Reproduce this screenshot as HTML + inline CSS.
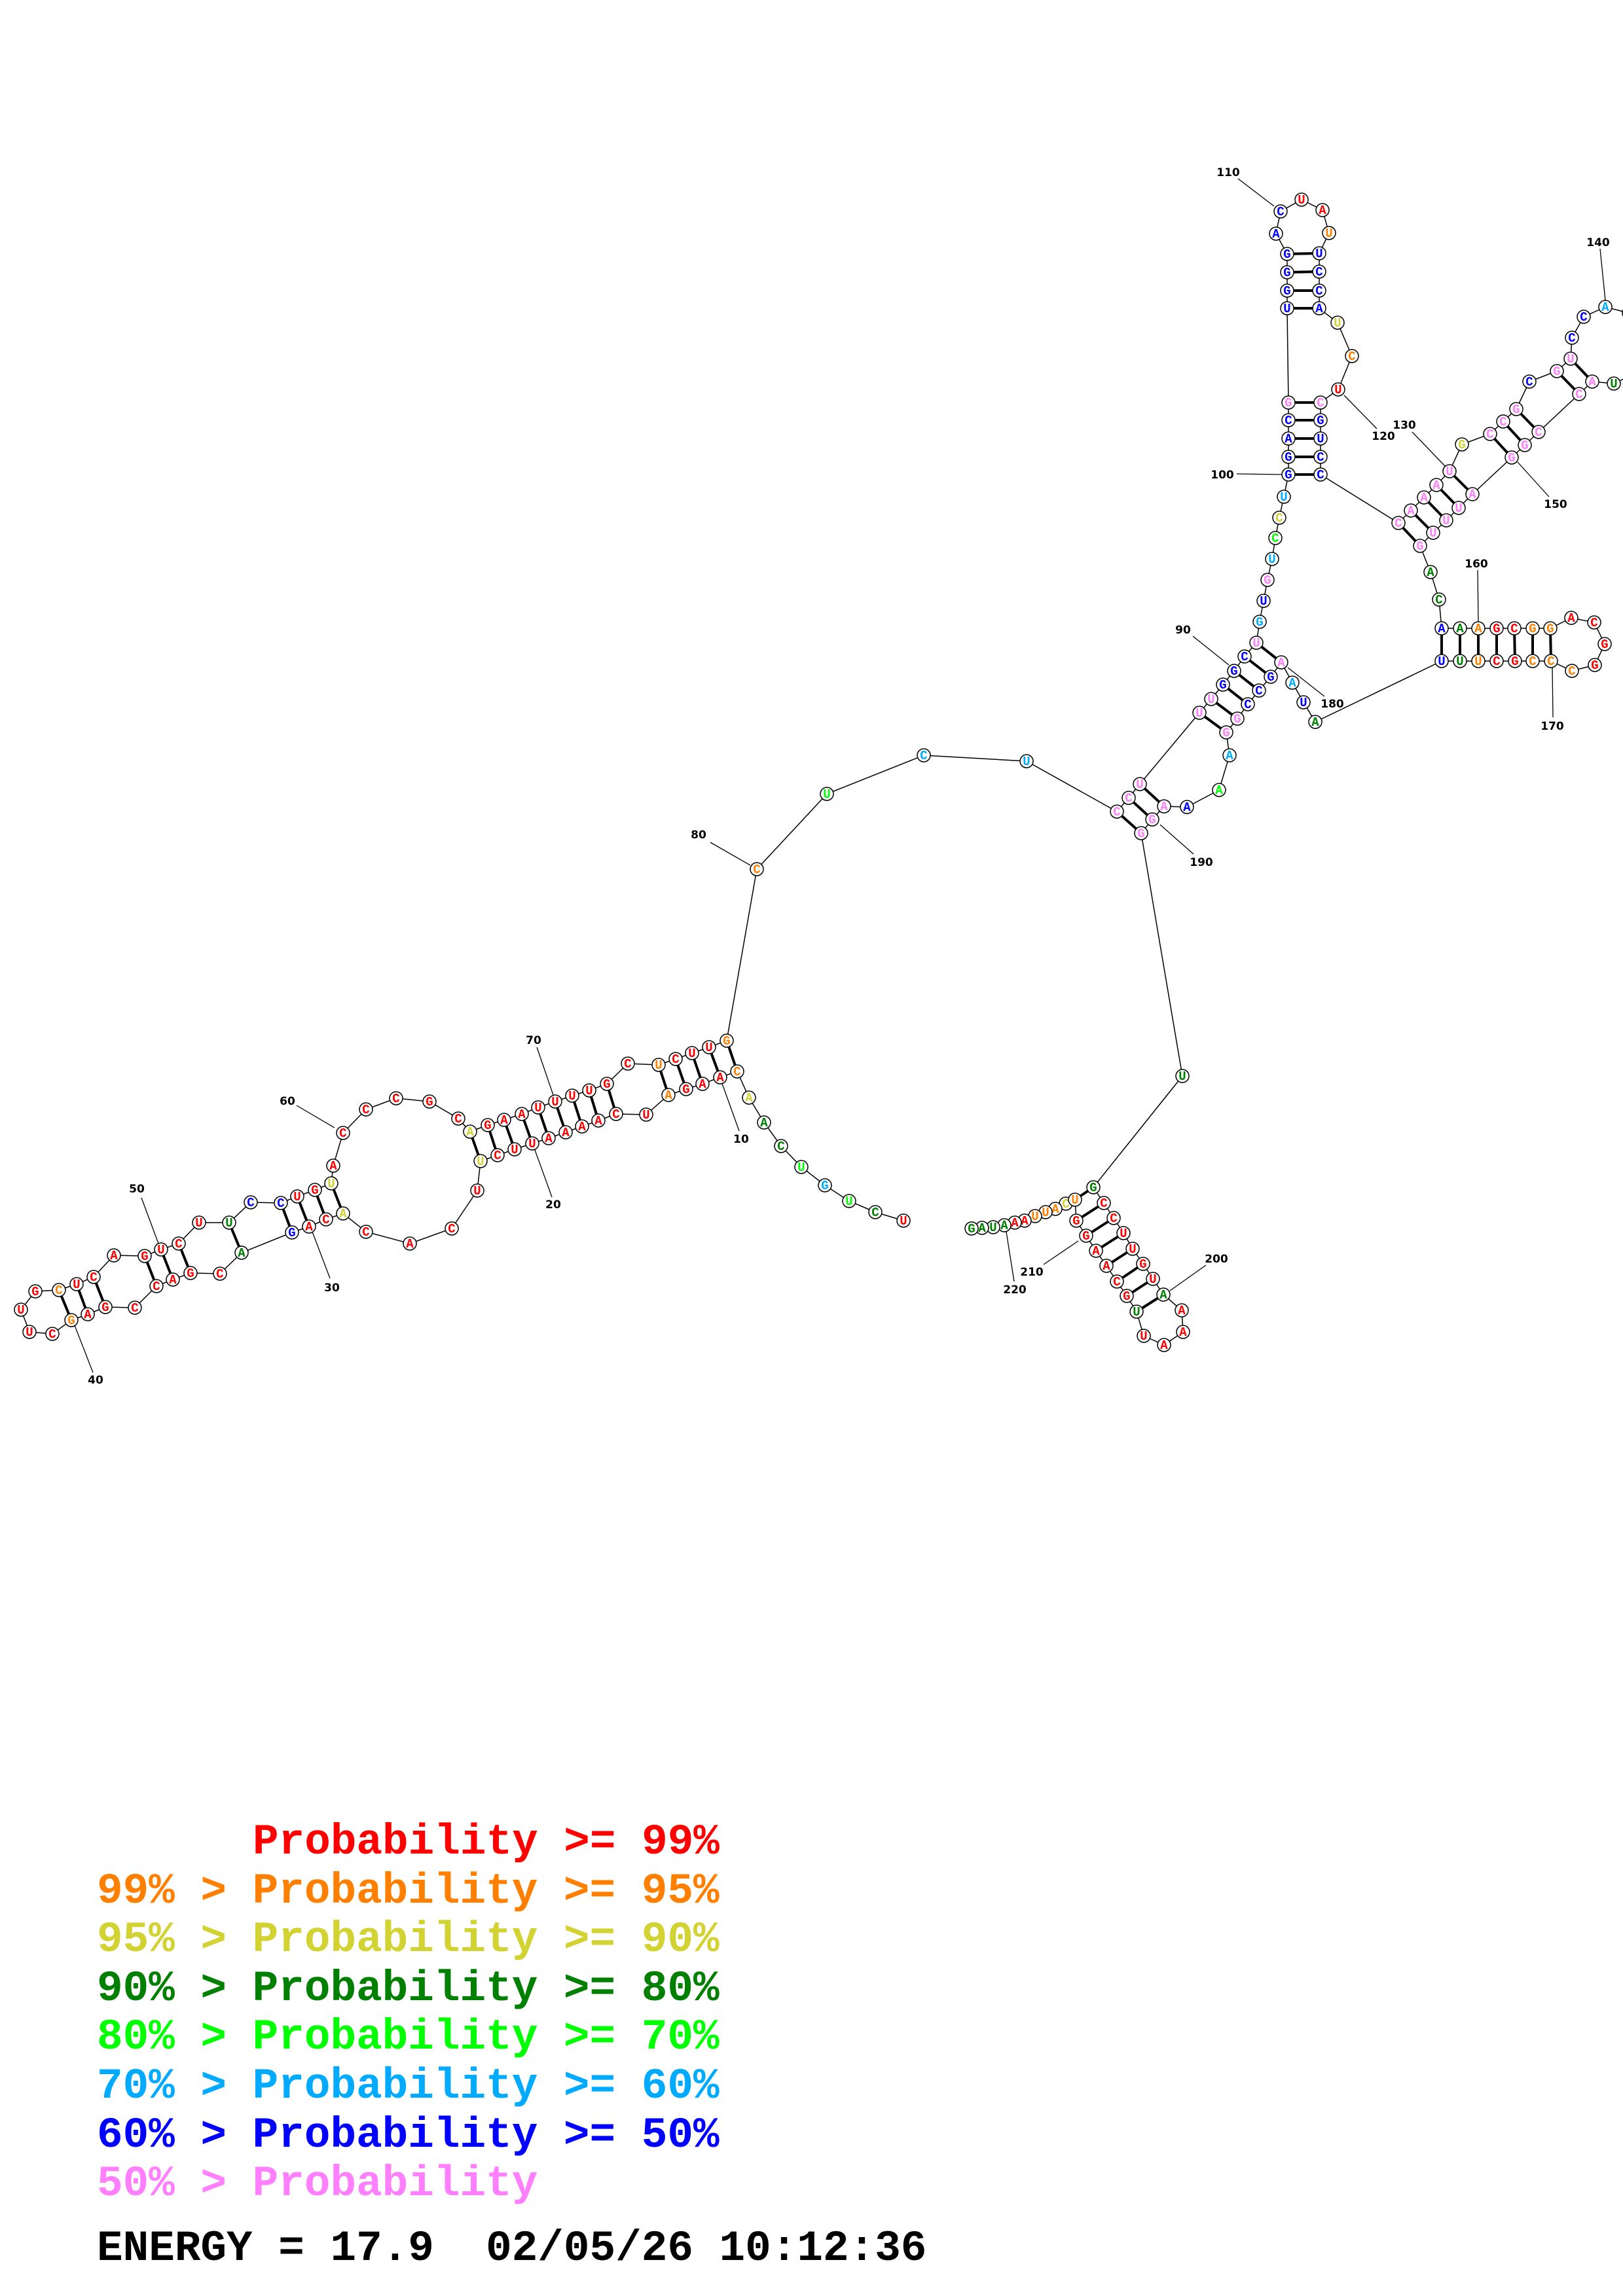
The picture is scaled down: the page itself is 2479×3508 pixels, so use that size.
<!DOCTYPE html>
<html><head><meta charset="utf-8"><title>RNA structure</title>
<style>
html,body{margin:0;padding:0;background:#fff;}
svg{display:block;}
.bb{fill:none;stroke:#000;stroke-width:1.5;}
.pr line{stroke:#000;stroke-width:4;}
.nt circle{fill:#fff;stroke:#000;stroke-width:1.5;}
.nt text{font-family:"Liberation Mono","DejaVu Sans Mono",monospace;font-weight:bold;font-size:19px;text-anchor:middle;}
.lb line{stroke:#000;stroke-width:1.3;}
.lb text{font-family:"DejaVu Sans","Liberation Sans",sans-serif;font-weight:bold;font-size:17px;text-anchor:middle;fill:#000;}
.lg text{font-family:"Liberation Mono","DejaVu Sans Mono",monospace;font-weight:bold;font-size:66px;white-space:pre;}
.r{fill:#ff0000}.o{fill:#ff8000}.y{fill:#d2d232}.d{fill:#008000}.g{fill:#00ff00}.l{fill:#00aaff}.b{fill:#0000ff}.p{fill:#ff80ff}.k{fill:#000}
</style></head>
<body>
<svg xmlns="http://www.w3.org/2000/svg" width="2479" height="3508" viewBox="0 0 2479 3508">
<rect width="2479" height="3508" fill="#fff"/>
<polyline class="bb" points="1380,1865 1337,1852 1297,1835 1260,1811 1224,1783 1193,1751 1167,1715 1144,1677 1126,1637 1100,1646 1073,1656 1048,1664 1021,1673 987,1703 941,1702 914,1712 889,1721 864,1730 838,1739 813,1747 786,1756 760,1765 734,1774 729,1819 690,1877 626,1900 559,1882 524,1854 498,1863 472,1874 446,1883 369,1914 336,1946 291,1945 264,1955 239,1965 206,1998 161,1997 134,2008 109,2017 80,2038 45,2035 32,2001 54,1973 90,1971 117,1962 143,1951 174,1918 221,1919 246,1909 273,1900 304,1868 350,1868 383,1837 429,1838 454,1828 481,1818 506,1808 509,1781 524,1731 559,1695 605,1678 656,1683 700,1709 718,1729 745,1719 770,1711 797,1702 822,1692 848,1683 874,1674 900,1666 927,1656 959,1625 1006,1627 1032,1618 1057,1609 1083,1600 1110,1590 1156,1328 1263,1213 1411,1154 1568,1163 1706,1240 1724,1219 1741,1198 1832,1089 1850,1068 1868,1046 1885,1025 1901,1003 1919,982 1924,950 1930,918 1936,886 1943,854 1948,822 1954,791 1961,759 1968,725 1968,698 1968,670 1968,642 1968,615 1966,471 1966,444 1966,416 1966,388 1949,357 1956,323 1988,305 2020,321 2030,356 2015,387 2015,415 2015,444 2015,471 2043,493 2065,544 2044,595 2017,615 2017,642 2017,670 2017,698 2017,725 2136,799 2155,780 2175,760 2194,741 2214,720 2233,679 2276,663 2296,644 2316,625 2336,583 2378,567 2399,548 2401,516 2419,484 2452,469 2487,478 2511,505 2515,540 2497,571 2465,586 2432,583 2412,602 2350,660 2329,680 2309,699 2249,755 2228,776 2209,795 2189,814 2169,834 2185,874 2198,916 2202,960 2230,960 2258,960 2286,960 2313,960 2341,960 2368,960 2400,944 2435,951 2451,984 2436,1016 2401,1025 2369,1010 2341,1010 2314,1010 2286,1010 2258,1010 2230,1010 2202,1010 2009,1103 1991,1073 1974,1043 1957,1012 1941,1034 1923,1055 1906,1076 1890,1098 1873,1119 1878,1154 1862,1207 1813,1233 1778,1232 1760,1252 1743,1273 1806,1644 1670,1814 1686,1838 1701,1861 1716,1884 1730,1908 1746,1931 1761,1954 1777,1978 1805,2002 1807,2035 1778,2055 1747,2041 1736,2004 1721,1980 1706,1958 1690,1934 1674,1911 1659,1888 1644,1865 1642,1833 1628,1839 1612,1847 1597,1852 1581,1858 1565,1865 1550,1868 1534,1872 1517,1875 1500,1876 1484,1877"/>
<g class="pr">
<line x1="1126" y1="1637" x2="1110" y2="1590"/>
<line x1="1100" y1="1646" x2="1083" y2="1600"/>
<line x1="1073" y1="1656" x2="1057" y2="1609"/>
<line x1="1048" y1="1664" x2="1032" y2="1618"/>
<line x1="1021" y1="1673" x2="1006" y2="1627"/>
<line x1="941" y1="1702" x2="927" y2="1656"/>
<line x1="914" y1="1712" x2="900" y2="1666"/>
<line x1="889" y1="1721" x2="874" y2="1674"/>
<line x1="864" y1="1730" x2="848" y2="1683"/>
<line x1="838" y1="1739" x2="822" y2="1692"/>
<line x1="813" y1="1747" x2="797" y2="1702"/>
<line x1="786" y1="1756" x2="770" y2="1711"/>
<line x1="760" y1="1765" x2="745" y2="1719"/>
<line x1="734" y1="1774" x2="718" y2="1729"/>
<line x1="524" y1="1854" x2="506" y2="1808"/>
<line x1="498" y1="1863" x2="481" y2="1818"/>
<line x1="472" y1="1874" x2="454" y2="1828"/>
<line x1="446" y1="1883" x2="429" y2="1838"/>
<line x1="369" y1="1914" x2="350" y2="1868"/>
<line x1="291" y1="1945" x2="273" y2="1900"/>
<line x1="264" y1="1955" x2="246" y2="1909"/>
<line x1="239" y1="1965" x2="221" y2="1919"/>
<line x1="161" y1="1997" x2="143" y2="1951"/>
<line x1="134" y1="2008" x2="117" y2="1962"/>
<line x1="109" y1="2017" x2="90" y2="1971"/>
<line x1="1706" y1="1240" x2="1743" y2="1273"/>
<line x1="1724" y1="1219" x2="1760" y2="1252"/>
<line x1="1741" y1="1198" x2="1778" y2="1232"/>
<line x1="1832" y1="1089" x2="1873" y2="1119"/>
<line x1="1850" y1="1068" x2="1890" y2="1098"/>
<line x1="1868" y1="1046" x2="1906" y2="1076"/>
<line x1="1885" y1="1025" x2="1923" y2="1055"/>
<line x1="1901" y1="1003" x2="1941" y2="1034"/>
<line x1="1919" y1="982" x2="1957" y2="1012"/>
<line x1="1968" y1="725" x2="2017" y2="725"/>
<line x1="1968" y1="698" x2="2017" y2="698"/>
<line x1="1968" y1="670" x2="2017" y2="670"/>
<line x1="1968" y1="642" x2="2017" y2="642"/>
<line x1="1968" y1="615" x2="2017" y2="615"/>
<line x1="1966" y1="471" x2="2015" y2="471"/>
<line x1="1966" y1="444" x2="2015" y2="444"/>
<line x1="1966" y1="416" x2="2015" y2="415"/>
<line x1="1966" y1="388" x2="2015" y2="387"/>
<line x1="2136" y1="799" x2="2169" y2="834"/>
<line x1="2155" y1="780" x2="2189" y2="814"/>
<line x1="2175" y1="760" x2="2209" y2="795"/>
<line x1="2194" y1="741" x2="2228" y2="776"/>
<line x1="2214" y1="720" x2="2249" y2="755"/>
<line x1="2276" y1="663" x2="2309" y2="699"/>
<line x1="2296" y1="644" x2="2329" y2="680"/>
<line x1="2316" y1="625" x2="2350" y2="660"/>
<line x1="2378" y1="567" x2="2412" y2="602"/>
<line x1="2399" y1="548" x2="2432" y2="583"/>
<line x1="2202" y1="960" x2="2202" y2="1010"/>
<line x1="2230" y1="960" x2="2230" y2="1010"/>
<line x1="2258" y1="960" x2="2258" y2="1010"/>
<line x1="2286" y1="960" x2="2286" y2="1010"/>
<line x1="2313" y1="960" x2="2314" y2="1010"/>
<line x1="2341" y1="960" x2="2341" y2="1010"/>
<line x1="2368" y1="960" x2="2369" y2="1010"/>
<line x1="1670" y1="1814" x2="1642" y2="1833"/>
<line x1="1686" y1="1838" x2="1644" y2="1865"/>
<line x1="1701" y1="1861" x2="1659" y2="1888"/>
<line x1="1716" y1="1884" x2="1674" y2="1911"/>
<line x1="1730" y1="1908" x2="1690" y2="1934"/>
<line x1="1746" y1="1931" x2="1706" y2="1958"/>
<line x1="1761" y1="1954" x2="1721" y2="1980"/>
<line x1="1777" y1="1978" x2="1736" y2="2004"/>
</g>
<g class="lb">
<line x1="1101" y1="1650" x2="1129" y2="1728"/><text x="1132" y="1746">10</text>
<line x1="817" y1="1757" x2="843" y2="1829"/><text x="845" y="1846">20</text>
<line x1="477" y1="1882" x2="504" y2="1953"/><text x="507" y="1973">30</text>
<line x1="114" y1="2025" x2="142" y2="2097"/><text x="146" y="2114">40</text>
<line x1="216" y1="1830" x2="242" y2="1900"/><text x="209" y="1822">50</text>
<line x1="453" y1="1689" x2="511" y2="1723"/><text x="439" y="1688">60</text>
<line x1="820" y1="1600" x2="845" y2="1673"/><text x="815" y="1595">70</text>
<line x1="1085" y1="1287" x2="1146" y2="1322"/><text x="1067" y="1281">80</text>
<line x1="1822" y1="972" x2="1877" y2="1016"/><text x="1807" y="968">90</text>
<line x1="1889" y1="724" x2="1958" y2="725"/><text x="1867" y="731">100</text>
<line x1="1891" y1="273" x2="1946" y2="315"/><text x="1876" y="269">110</text>
<line x1="2053" y1="604" x2="2103" y2="655"/><text x="2113" y="672">120</text>
<line x1="2157" y1="660" x2="2207" y2="712"/><text x="2145" y="655">130</text>
<line x1="2444" y1="380" x2="2452" y2="459"/><text x="2441" y="376">140</text>
<line x1="2318" y1="706" x2="2366" y2="759"/><text x="2376" y="776">150</text>
<line x1="2257" y1="871" x2="2258" y2="951"/><text x="2255" y="867">160</text>
<line x1="2371" y1="1018" x2="2372" y2="1096"/><text x="2371" y="1115">170</text>
<line x1="1967" y1="1020" x2="2023" y2="1064"/><text x="2035" y="1081">180</text>
<line x1="1772" y1="1260" x2="1823" y2="1305"/><text x="1835" y="1323">190</text>
<line x1="1842" y1="1933" x2="1787" y2="1972"/><text x="1858" y="1929">200</text>
<line x1="1594" y1="1932" x2="1647" y2="1896"/><text x="1576" y="1949">210</text>
<line x1="1537" y1="1882" x2="1549" y2="1958"/><text x="1550" y="1976">220</text>
</g>
<g class="nt">
<circle cx="1380" cy="1865" r="10"/><text x="1380" y="1871" class="r">U</text>
<circle cx="1337" cy="1852" r="10"/><text x="1337" y="1858" class="d">C</text>
<circle cx="1297" cy="1835" r="10"/><text x="1297" y="1841" class="g">U</text>
<circle cx="1260" cy="1811" r="10"/><text x="1260" y="1817" class="l">G</text>
<circle cx="1224" cy="1783" r="10"/><text x="1224" y="1789" class="g">U</text>
<circle cx="1193" cy="1751" r="10"/><text x="1193" y="1757" class="d">C</text>
<circle cx="1167" cy="1715" r="10"/><text x="1167" y="1721" class="d">A</text>
<circle cx="1144" cy="1677" r="10"/><text x="1144" y="1683" class="y">A</text>
<circle cx="1126" cy="1637" r="10"/><text x="1126" y="1643" class="o">C</text>
<circle cx="1100" cy="1646" r="10"/><text x="1100" y="1652" class="r">A</text>
<circle cx="1073" cy="1656" r="10"/><text x="1073" y="1662" class="r">A</text>
<circle cx="1048" cy="1664" r="10"/><text x="1048" y="1670" class="r">G</text>
<circle cx="1021" cy="1673" r="10"/><text x="1021" y="1679" class="o">A</text>
<circle cx="987" cy="1703" r="10"/><text x="987" y="1709" class="r">U</text>
<circle cx="941" cy="1702" r="10"/><text x="941" y="1708" class="r">C</text>
<circle cx="914" cy="1712" r="10"/><text x="914" y="1718" class="r">A</text>
<circle cx="889" cy="1721" r="10"/><text x="889" y="1727" class="r">A</text>
<circle cx="864" cy="1730" r="10"/><text x="864" y="1736" class="r">A</text>
<circle cx="838" cy="1739" r="10"/><text x="838" y="1745" class="r">A</text>
<circle cx="813" cy="1747" r="10"/><text x="813" y="1753" class="r">U</text>
<circle cx="786" cy="1756" r="10"/><text x="786" y="1762" class="r">U</text>
<circle cx="760" cy="1765" r="10"/><text x="760" y="1771" class="r">C</text>
<circle cx="734" cy="1774" r="10"/><text x="734" y="1780" class="y">U</text>
<circle cx="729" cy="1819" r="10"/><text x="729" y="1825" class="r">U</text>
<circle cx="690" cy="1877" r="10"/><text x="690" y="1883" class="r">C</text>
<circle cx="626" cy="1900" r="10"/><text x="626" y="1906" class="r">A</text>
<circle cx="559" cy="1882" r="10"/><text x="559" y="1888" class="r">C</text>
<circle cx="524" cy="1854" r="10"/><text x="524" y="1860" class="y">A</text>
<circle cx="498" cy="1863" r="10"/><text x="498" y="1869" class="r">C</text>
<circle cx="472" cy="1874" r="10"/><text x="472" y="1880" class="r">A</text>
<circle cx="446" cy="1883" r="10"/><text x="446" y="1889" class="b">G</text>
<circle cx="369" cy="1914" r="10"/><text x="369" y="1920" class="d">A</text>
<circle cx="336" cy="1946" r="10"/><text x="336" y="1952" class="r">C</text>
<circle cx="291" cy="1945" r="10"/><text x="291" y="1951" class="r">G</text>
<circle cx="264" cy="1955" r="10"/><text x="264" y="1961" class="r">A</text>
<circle cx="239" cy="1965" r="10"/><text x="239" y="1971" class="r">C</text>
<circle cx="206" cy="1998" r="10"/><text x="206" y="2004" class="r">C</text>
<circle cx="161" cy="1997" r="10"/><text x="161" y="2003" class="r">G</text>
<circle cx="134" cy="2008" r="10"/><text x="134" y="2014" class="r">A</text>
<circle cx="109" cy="2017" r="10"/><text x="109" y="2023" class="o">G</text>
<circle cx="80" cy="2038" r="10"/><text x="80" y="2044" class="r">C</text>
<circle cx="45" cy="2035" r="10"/><text x="45" y="2041" class="r">U</text>
<circle cx="32" cy="2001" r="10"/><text x="32" y="2007" class="r">U</text>
<circle cx="54" cy="1973" r="10"/><text x="54" y="1979" class="r">G</text>
<circle cx="90" cy="1971" r="10"/><text x="90" y="1977" class="o">C</text>
<circle cx="117" cy="1962" r="10"/><text x="117" y="1968" class="r">U</text>
<circle cx="143" cy="1951" r="10"/><text x="143" y="1957" class="r">C</text>
<circle cx="174" cy="1918" r="10"/><text x="174" y="1924" class="r">A</text>
<circle cx="221" cy="1919" r="10"/><text x="221" y="1925" class="r">G</text>
<circle cx="246" cy="1909" r="10"/><text x="246" y="1915" class="r">U</text>
<circle cx="273" cy="1900" r="10"/><text x="273" y="1906" class="r">C</text>
<circle cx="304" cy="1868" r="10"/><text x="304" y="1874" class="r">U</text>
<circle cx="350" cy="1868" r="10"/><text x="350" y="1874" class="d">U</text>
<circle cx="383" cy="1837" r="10"/><text x="383" y="1843" class="b">C</text>
<circle cx="429" cy="1838" r="10"/><text x="429" y="1844" class="b">C</text>
<circle cx="454" cy="1828" r="10"/><text x="454" y="1834" class="r">U</text>
<circle cx="481" cy="1818" r="10"/><text x="481" y="1824" class="r">G</text>
<circle cx="506" cy="1808" r="10"/><text x="506" y="1814" class="y">U</text>
<circle cx="509" cy="1781" r="10"/><text x="509" y="1787" class="r">A</text>
<circle cx="524" cy="1731" r="10"/><text x="524" y="1737" class="r">C</text>
<circle cx="559" cy="1695" r="10"/><text x="559" y="1701" class="r">C</text>
<circle cx="605" cy="1678" r="10"/><text x="605" y="1684" class="r">C</text>
<circle cx="656" cy="1683" r="10"/><text x="656" y="1689" class="r">G</text>
<circle cx="700" cy="1709" r="10"/><text x="700" y="1715" class="r">C</text>
<circle cx="718" cy="1729" r="10"/><text x="718" y="1735" class="y">A</text>
<circle cx="745" cy="1719" r="10"/><text x="745" y="1725" class="r">G</text>
<circle cx="770" cy="1711" r="10"/><text x="770" y="1717" class="r">A</text>
<circle cx="797" cy="1702" r="10"/><text x="797" y="1708" class="r">A</text>
<circle cx="822" cy="1692" r="10"/><text x="822" y="1698" class="r">U</text>
<circle cx="848" cy="1683" r="10"/><text x="848" y="1689" class="r">U</text>
<circle cx="874" cy="1674" r="10"/><text x="874" y="1680" class="r">U</text>
<circle cx="900" cy="1666" r="10"/><text x="900" y="1672" class="r">U</text>
<circle cx="927" cy="1656" r="10"/><text x="927" y="1662" class="r">G</text>
<circle cx="959" cy="1625" r="10"/><text x="959" y="1631" class="r">C</text>
<circle cx="1006" cy="1627" r="10"/><text x="1006" y="1633" class="o">U</text>
<circle cx="1032" cy="1618" r="10"/><text x="1032" y="1624" class="r">C</text>
<circle cx="1057" cy="1609" r="10"/><text x="1057" y="1615" class="r">U</text>
<circle cx="1083" cy="1600" r="10"/><text x="1083" y="1606" class="r">U</text>
<circle cx="1110" cy="1590" r="10"/><text x="1110" y="1596" class="o">G</text>
<circle cx="1156" cy="1328" r="10"/><text x="1156" y="1334" class="o">C</text>
<circle cx="1263" cy="1213" r="10"/><text x="1263" y="1219" class="g">U</text>
<circle cx="1411" cy="1154" r="10"/><text x="1411" y="1160" class="l">C</text>
<circle cx="1568" cy="1163" r="10"/><text x="1568" y="1169" class="l">U</text>
<circle cx="1706" cy="1240" r="10"/><text x="1706" y="1246" class="p">C</text>
<circle cx="1724" cy="1219" r="10"/><text x="1724" y="1225" class="p">C</text>
<circle cx="1741" cy="1198" r="10"/><text x="1741" y="1204" class="p">U</text>
<circle cx="1832" cy="1089" r="10"/><text x="1832" y="1095" class="p">U</text>
<circle cx="1850" cy="1068" r="10"/><text x="1850" y="1074" class="p">U</text>
<circle cx="1868" cy="1046" r="10"/><text x="1868" y="1052" class="b">G</text>
<circle cx="1885" cy="1025" r="10"/><text x="1885" y="1031" class="b">G</text>
<circle cx="1901" cy="1003" r="10"/><text x="1901" y="1009" class="b">C</text>
<circle cx="1919" cy="982" r="10"/><text x="1919" y="988" class="p">U</text>
<circle cx="1924" cy="950" r="10"/><text x="1924" y="956" class="l">G</text>
<circle cx="1930" cy="918" r="10"/><text x="1930" y="924" class="b">U</text>
<circle cx="1936" cy="886" r="10"/><text x="1936" y="892" class="p">G</text>
<circle cx="1943" cy="854" r="10"/><text x="1943" y="860" class="l">U</text>
<circle cx="1948" cy="822" r="10"/><text x="1948" y="828" class="g">C</text>
<circle cx="1954" cy="791" r="10"/><text x="1954" y="797" class="y">C</text>
<circle cx="1961" cy="759" r="10"/><text x="1961" y="765" class="l">U</text>
<circle cx="1968" cy="725" r="10"/><text x="1968" y="731" class="b">G</text>
<circle cx="1968" cy="698" r="10"/><text x="1968" y="704" class="b">G</text>
<circle cx="1968" cy="670" r="10"/><text x="1968" y="676" class="b">A</text>
<circle cx="1968" cy="642" r="10"/><text x="1968" y="648" class="b">C</text>
<circle cx="1968" cy="615" r="10"/><text x="1968" y="621" class="p">G</text>
<circle cx="1966" cy="471" r="10"/><text x="1966" y="477" class="b">U</text>
<circle cx="1966" cy="444" r="10"/><text x="1966" y="450" class="b">G</text>
<circle cx="1966" cy="416" r="10"/><text x="1966" y="422" class="b">G</text>
<circle cx="1966" cy="388" r="10"/><text x="1966" y="394" class="b">G</text>
<circle cx="1949" cy="357" r="10"/><text x="1949" y="363" class="b">A</text>
<circle cx="1956" cy="323" r="10"/><text x="1956" y="329" class="b">C</text>
<circle cx="1988" cy="305" r="10"/><text x="1988" y="311" class="r">U</text>
<circle cx="2020" cy="321" r="10"/><text x="2020" y="327" class="r">A</text>
<circle cx="2030" cy="356" r="10"/><text x="2030" y="362" class="o">U</text>
<circle cx="2015" cy="387" r="10"/><text x="2015" y="393" class="b">U</text>
<circle cx="2015" cy="415" r="10"/><text x="2015" y="421" class="b">C</text>
<circle cx="2015" cy="444" r="10"/><text x="2015" y="450" class="b">C</text>
<circle cx="2015" cy="471" r="10"/><text x="2015" y="477" class="b">A</text>
<circle cx="2043" cy="493" r="10"/><text x="2043" y="499" class="y">U</text>
<circle cx="2065" cy="544" r="10"/><text x="2065" y="550" class="o">C</text>
<circle cx="2044" cy="595" r="10"/><text x="2044" y="601" class="r">U</text>
<circle cx="2017" cy="615" r="10"/><text x="2017" y="621" class="p">C</text>
<circle cx="2017" cy="642" r="10"/><text x="2017" y="648" class="b">G</text>
<circle cx="2017" cy="670" r="10"/><text x="2017" y="676" class="b">U</text>
<circle cx="2017" cy="698" r="10"/><text x="2017" y="704" class="b">C</text>
<circle cx="2017" cy="725" r="10"/><text x="2017" y="731" class="b">C</text>
<circle cx="2136" cy="799" r="10"/><text x="2136" y="805" class="p">C</text>
<circle cx="2155" cy="780" r="10"/><text x="2155" y="786" class="p">A</text>
<circle cx="2175" cy="760" r="10"/><text x="2175" y="766" class="p">A</text>
<circle cx="2194" cy="741" r="10"/><text x="2194" y="747" class="p">A</text>
<circle cx="2214" cy="720" r="10"/><text x="2214" y="726" class="p">U</text>
<circle cx="2233" cy="679" r="10"/><text x="2233" y="685" class="y">G</text>
<circle cx="2276" cy="663" r="10"/><text x="2276" y="669" class="p">C</text>
<circle cx="2296" cy="644" r="10"/><text x="2296" y="650" class="p">C</text>
<circle cx="2316" cy="625" r="10"/><text x="2316" y="631" class="p">G</text>
<circle cx="2336" cy="583" r="10"/><text x="2336" y="589" class="b">C</text>
<circle cx="2378" cy="567" r="10"/><text x="2378" y="573" class="p">G</text>
<circle cx="2399" cy="548" r="10"/><text x="2399" y="554" class="p">U</text>
<circle cx="2401" cy="516" r="10"/><text x="2401" y="522" class="b">C</text>
<circle cx="2419" cy="484" r="10"/><text x="2419" y="490" class="b">C</text>
<circle cx="2452" cy="469" r="10"/><text x="2452" y="475" class="l">A</text>
<circle cx="2488" cy="478" r="10"/>
<circle cx="2465" cy="586" r="10"/><text x="2465" y="592" class="d">U</text>
<circle cx="2432" cy="583" r="10"/><text x="2432" y="589" class="p">A</text>
<circle cx="2412" cy="602" r="10"/><text x="2412" y="608" class="p">C</text>
<circle cx="2350" cy="660" r="10"/><text x="2350" y="666" class="p">C</text>
<circle cx="2329" cy="680" r="10"/><text x="2329" y="686" class="p">G</text>
<circle cx="2309" cy="699" r="10"/><text x="2309" y="705" class="p">G</text>
<circle cx="2249" cy="755" r="10"/><text x="2249" y="761" class="p">A</text>
<circle cx="2228" cy="776" r="10"/><text x="2228" y="782" class="p">U</text>
<circle cx="2209" cy="795" r="10"/><text x="2209" y="801" class="p">U</text>
<circle cx="2189" cy="814" r="10"/><text x="2189" y="820" class="p">U</text>
<circle cx="2169" cy="834" r="10"/><text x="2169" y="840" class="p">G</text>
<circle cx="2185" cy="874" r="10"/><text x="2185" y="880" class="d">A</text>
<circle cx="2198" cy="916" r="10"/><text x="2198" y="922" class="d">C</text>
<circle cx="2202" cy="960" r="10"/><text x="2202" y="966" class="b">A</text>
<circle cx="2230" cy="960" r="10"/><text x="2230" y="966" class="d">A</text>
<circle cx="2258" cy="960" r="10"/><text x="2258" y="966" class="o">A</text>
<circle cx="2286" cy="960" r="10"/><text x="2286" y="966" class="r">G</text>
<circle cx="2313" cy="960" r="10"/><text x="2313" y="966" class="r">C</text>
<circle cx="2341" cy="960" r="10"/><text x="2341" y="966" class="o">G</text>
<circle cx="2368" cy="960" r="10"/><text x="2368" y="966" class="o">G</text>
<circle cx="2400" cy="944" r="10"/><text x="2400" y="950" class="r">A</text>
<circle cx="2435" cy="951" r="10"/><text x="2435" y="957" class="r">C</text>
<circle cx="2451" cy="984" r="10"/><text x="2451" y="990" class="r">G</text>
<circle cx="2436" cy="1016" r="10"/><text x="2436" y="1022" class="r">G</text>
<circle cx="2401" cy="1025" r="10"/><text x="2401" y="1031" class="o">C</text>
<circle cx="2369" cy="1010" r="10"/><text x="2369" y="1016" class="o">C</text>
<circle cx="2341" cy="1010" r="10"/><text x="2341" y="1016" class="o">C</text>
<circle cx="2314" cy="1010" r="10"/><text x="2314" y="1016" class="r">G</text>
<circle cx="2286" cy="1010" r="10"/><text x="2286" y="1016" class="r">C</text>
<circle cx="2258" cy="1010" r="10"/><text x="2258" y="1016" class="o">U</text>
<circle cx="2230" cy="1010" r="10"/><text x="2230" y="1016" class="d">U</text>
<circle cx="2202" cy="1010" r="10"/><text x="2202" y="1016" class="b">U</text>
<circle cx="2009" cy="1103" r="10"/><text x="2009" y="1109" class="d">A</text>
<circle cx="1991" cy="1073" r="10"/><text x="1991" y="1079" class="b">U</text>
<circle cx="1974" cy="1043" r="10"/><text x="1974" y="1049" class="l">A</text>
<circle cx="1957" cy="1012" r="10"/><text x="1957" y="1018" class="p">A</text>
<circle cx="1941" cy="1034" r="10"/><text x="1941" y="1040" class="b">G</text>
<circle cx="1923" cy="1055" r="10"/><text x="1923" y="1061" class="b">C</text>
<circle cx="1906" cy="1076" r="10"/><text x="1906" y="1082" class="b">C</text>
<circle cx="1890" cy="1098" r="10"/><text x="1890" y="1104" class="p">G</text>
<circle cx="1873" cy="1119" r="10"/><text x="1873" y="1125" class="p">G</text>
<circle cx="1878" cy="1154" r="10"/><text x="1878" y="1160" class="l">A</text>
<circle cx="1862" cy="1207" r="10"/><text x="1862" y="1213" class="g">A</text>
<circle cx="1813" cy="1233" r="10"/><text x="1813" y="1239" class="b">A</text>
<circle cx="1778" cy="1232" r="10"/><text x="1778" y="1238" class="p">A</text>
<circle cx="1760" cy="1252" r="10"/><text x="1760" y="1258" class="p">G</text>
<circle cx="1743" cy="1273" r="10"/><text x="1743" y="1279" class="p">G</text>
<circle cx="1806" cy="1644" r="10"/><text x="1806" y="1650" class="d">U</text>
<circle cx="1670" cy="1814" r="10"/><text x="1670" y="1820" class="d">G</text>
<circle cx="1686" cy="1838" r="10"/><text x="1686" y="1844" class="r">C</text>
<circle cx="1701" cy="1861" r="10"/><text x="1701" y="1867" class="r">C</text>
<circle cx="1716" cy="1884" r="10"/><text x="1716" y="1890" class="r">U</text>
<circle cx="1730" cy="1908" r="10"/><text x="1730" y="1914" class="r">U</text>
<circle cx="1746" cy="1931" r="10"/><text x="1746" y="1937" class="r">G</text>
<circle cx="1761" cy="1954" r="10"/><text x="1761" y="1960" class="r">U</text>
<circle cx="1777" cy="1978" r="10"/><text x="1777" y="1984" class="d">A</text>
<circle cx="1805" cy="2002" r="10"/><text x="1805" y="2008" class="r">A</text>
<circle cx="1807" cy="2035" r="10"/><text x="1807" y="2041" class="r">A</text>
<circle cx="1778" cy="2055" r="10"/><text x="1778" y="2061" class="r">A</text>
<circle cx="1747" cy="2041" r="10"/><text x="1747" y="2047" class="r">U</text>
<circle cx="1736" cy="2004" r="10"/><text x="1736" y="2010" class="d">U</text>
<circle cx="1721" cy="1980" r="10"/><text x="1721" y="1986" class="r">G</text>
<circle cx="1706" cy="1958" r="10"/><text x="1706" y="1964" class="r">C</text>
<circle cx="1690" cy="1934" r="10"/><text x="1690" y="1940" class="r">A</text>
<circle cx="1674" cy="1911" r="10"/><text x="1674" y="1917" class="r">A</text>
<circle cx="1659" cy="1888" r="10"/><text x="1659" y="1894" class="r">G</text>
<circle cx="1644" cy="1865" r="10"/><text x="1644" y="1871" class="r">G</text>
<circle cx="1628" cy="1839" r="10"/><text x="1628" y="1845" class="y">C</text>
<circle cx="1642" cy="1833" r="10"/><text x="1642" y="1839" class="o">U</text>
<circle cx="1612" cy="1847" r="10"/><text x="1612" y="1853" class="o">A</text>
<circle cx="1597" cy="1852" r="10"/><text x="1597" y="1858" class="o">U</text>
<circle cx="1581" cy="1858" r="10"/><text x="1581" y="1864" class="o">U</text>
<circle cx="1565" cy="1865" r="10"/><text x="1565" y="1871" class="r">A</text>
<circle cx="1550" cy="1868" r="10"/><text x="1550" y="1874" class="r">A</text>
<circle cx="1534" cy="1872" r="10"/><text x="1534" y="1878" class="d">A</text>
<circle cx="1517" cy="1875" r="10"/><text x="1517" y="1881" class="d">U</text>
<circle cx="1500" cy="1876" r="10"/><text x="1500" y="1882" class="d">A</text>
<circle cx="1484" cy="1877" r="10"/><text x="1484" y="1883" class="d">G</text>
</g>
<g class="lg">
<text x="386" y="2832" class="r">Probability &gt;= 99%</text>
<text x="148" y="2907" class="o">99% &gt; Probability &gt;= 95%</text>
<text x="148" y="2981" class="y">95% &gt; Probability &gt;= 90%</text>
<text x="148" y="3056" class="d">90% &gt; Probability &gt;= 80%</text>
<text x="148" y="3130" class="g">80% &gt; Probability &gt;= 70%</text>
<text x="148" y="3205" class="l">70% &gt; Probability &gt;= 60%</text>
<text x="148" y="3280" class="b">60% &gt; Probability &gt;= 50%</text>
<text x="148" y="3354" class="p">50% &gt; Probability</text>
<text x="148" y="3453" class="k">ENERGY = 17.9  02/05/26 10:12:36</text>
</g>
</svg>
</body></html>
